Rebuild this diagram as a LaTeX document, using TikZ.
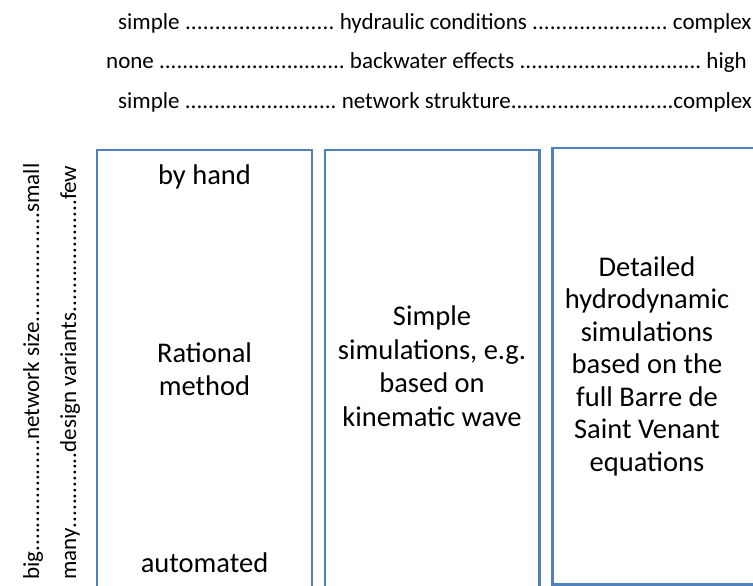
\documentclass[tikz,border=0pt]{standalone}
\usepackage{fontspec}
\setmainfont{Carlito}
\definecolor{boxblue}{RGB}{79,129,189}
\newcommand{\dl}[1]{\hbox to #1pt{\xleaders\hbox{.}\hfill}}
\begin{document}
\begin{tikzpicture}[x=1pt,y=-1pt,
  colbox/.style={draw=boxblue,line width=2.2pt},
  toptext/.style={font=\fontsize{23}{27}\selectfont,anchor=base west,inner sep=0pt},
  sidetext/.style={font=\fontsize{23}{27}\selectfont,rotate=90,anchor=base west,inner sep=0pt},
  boxtext/.style={font=\fontsize{28.5}{33.5}\selectfont,align=center,inner sep=0pt}]
\useasboundingbox (0,0) rectangle (753,586);
\clip (0,0) rectangle (753,586);
\fill[white] (0,0) rectangle (753,586);
% top lines
\node[toptext] (t1) at (118,30) {simple \dl{150} hydraulic conditions \dl{136} complex};
\node[toptext] (t2) at (106,69) {none \dl{186} backwater effects \dl{182} high};
\node[toptext] (t3) at (118,108) {simple \dl{152} network strukture\dl{163}complex};
% side lines
\node[sidetext] (s1) at (39,580) {big\dl{112}network size\dl{110}small};
\node[sidetext] (s2) at (76,580) {many\dl{76}design variants\dl{113}few};
% boxes
\draw[colbox] (97,150) rectangle (312,600);
\draw[colbox] (325,150) rectangle (539.5,600);
\draw[colbox] (552.5,148) rectangle (770,584.5);
% box texts
\node[boxtext] (b1a) at (204.5,177) {by hand};
\node[boxtext] (b1b) at (204.5,369) {Rational\\method};
\node[boxtext] (b1c) at (204.5,563) {automated};
\node[boxtext] (b2) at (432,366) {Simple\\simulations, e.g.\\based on\\kinematic wave};
\node[boxtext,font=\fontsize{28.5}{32.5}\selectfont] (b3) at (647,366) {Detailed\\hydrodynamic\\simulations\\based on the\\full Barre de\\Saint Venant\\equations};
\end{tikzpicture}
\end{document}
